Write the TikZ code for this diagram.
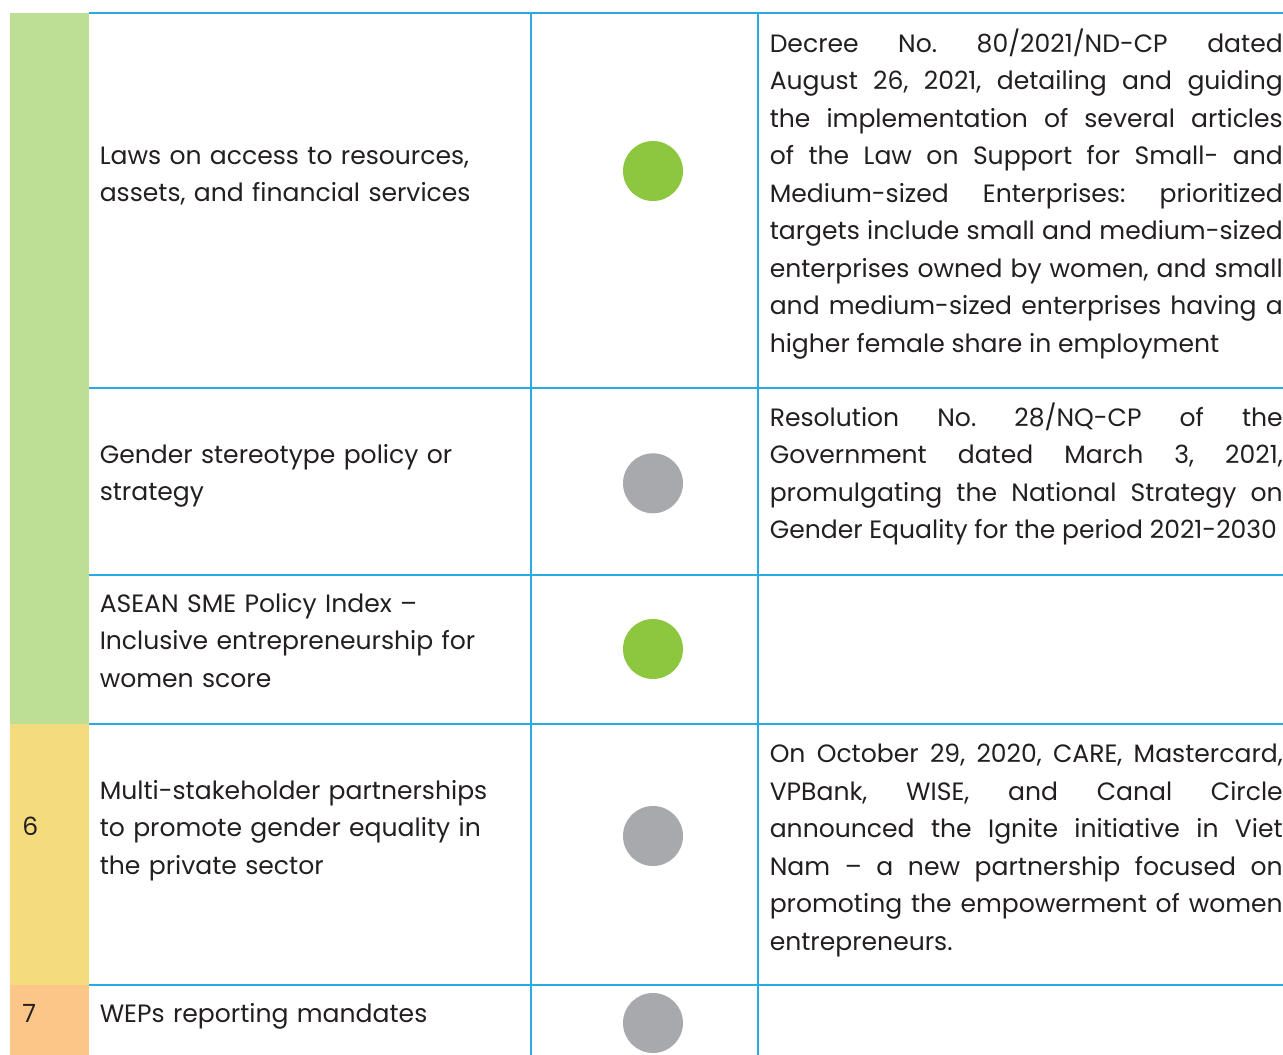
\documentclass[tikz,border=0pt]{standalone}
\usepackage{fontspec}
\setmainfont{Poppins}
\definecolor{tblue}{HTML}{29ABE2}
\definecolor{tdark}{HTML}{231F20}
\definecolor{bandgreen}{HTML}{BDDF95}
\definecolor{bandyellow}{HTML}{F4DC7E}
\definecolor{bandorange}{HTML}{FDC689}
\definecolor{dotgreen}{HTML}{8DC63F}
\definecolor{dotgray}{HTML}{A7A9AC}
\frenchspacing
\newcommand{\tblfont}{\fontsize{18.8}{28.125}\selectfont\frenchspacing\hyphenpenalty=10000\relax\exhyphenpenalty=10000\relax\tolerance=10000\relax}
\begin{document}
\begin{tikzpicture}[x=0.75pt,y=-0.75pt,
  txt/.style={font=\tblfont, text=tdark, inner sep=0pt, anchor=base west},
  lefttxt/.style={txt, text width=420pt, align=left},
  righttxt/.style={txt, text width=384.75pt, align=justify},
  numtxt/.style={txt},
  dot/.style={circle, minimum size=45pt, inner sep=0pt},
  gridline/.style={draw=tblue, line width=0.9pt}]
\useasboundingbox (0,0) rectangle (1283,1055);
% colour bands
\fill[bandgreen]  (10,13)  rectangle (89,724);
\fill[bandyellow] (10,724) rectangle (89,985);
\fill[bandorange] (10,985) rectangle (89,1055);
% grid
\coordinate (h1a) at (89,13);   \coordinate (h1b) at (1283,13);
\coordinate (h2a) at (89,388);  \coordinate (h2b) at (1283,388);
\coordinate (h3a) at (89,575);  \coordinate (h3b) at (1283,575);
\coordinate (h4a) at (89,724);  \coordinate (h4b) at (1283,724);
\coordinate (h5a) at (89,985);  \coordinate (h5b) at (1283,985);
\coordinate (v1a) at (531,13);  \coordinate (v1b) at (531,1055);
\coordinate (v2a) at (758,13);  \coordinate (v2b) at (758,1055);
\draw[gridline] (h1a) -- (h1b);
\draw[gridline] (h2a) -- (h2b);
\draw[gridline] (h3a) -- (h3b);
\draw[gridline] (h4a) -- (h4b);
\draw[gridline] (h5a) -- (h5b);
\draw[gridline] (v1a) -- (v1b);
\draw[gridline] (v2a) -- (v2b);
% numbers
\node[numtxt] (n6) at (22,835.5) {6};
\node[numtxt] (n7) at (22,1022.5) {7};
% left column
\node[lefttxt] (l1) at (99.5,164.3) {Laws on access to resources,\\assets, and financial services};
\node[lefttxt] (l2) at (99.5,463.3) {Gender stereotype policy or\\strategy};
\node[lefttxt] (l3) at (99.5,612.3) {ASEAN SME Policy Index –\\Inclusive entrepreneurship for\\women score};
\node[lefttxt] (l4) at (99.5,799.3) {Multi-stakeholder partnerships\\to promote gender equality in\\the private sector};
\node[lefttxt] (l5) at (99.5,1022.5) {WEPs reporting mandates};
% dots
\node[dot, fill=dotgreen] (d1) at (653,171) {};
\node[dot, fill=dotgray]  (d2) at (653,483.3) {};
\node[dot, fill=dotgreen] (d3) at (653,649) {};
\node[dot, fill=dotgray]  (d4) at (653,836) {};
\node[dot, fill=dotgray]  (d5) at (653,1023) {};
% right column
\node[righttxt] (r1) at (769.5,52.3) {Decree No. 80/2021/ND-CP dated\linebreak
August 26, 2021, detailing and guiding\linebreak
the implementation of several articles\linebreak
of the Law on Support for Small- and\linebreak
Medium-sized Enterprises: prioritized\linebreak
targets include small and medium-sized\linebreak
enterprises owned by women, and small\linebreak
and medium-sized enterprises having a\linebreak
higher female share in employment};
\node[righttxt] (r2) at (769.5,426.3) {\parfillskip=0pt\relax Resolution No. 28/NQ-CP of the\linebreak
Government dated March 3, 2021,\linebreak
promulgating the National Strategy on\linebreak
Gender Equality for the period 2021-2030};
\node[righttxt] (r4) at (769.5,762.7) {On October 29, 2020, CARE, Mastercard,\linebreak
VPBank, WISE, and Canal Circle\linebreak
announced the Ignite initiative in Viet\linebreak
Nam – a new partnership focused on\linebreak
promoting the empowerment of women\linebreak
entrepreneurs.};
\end{tikzpicture}
\end{document}
